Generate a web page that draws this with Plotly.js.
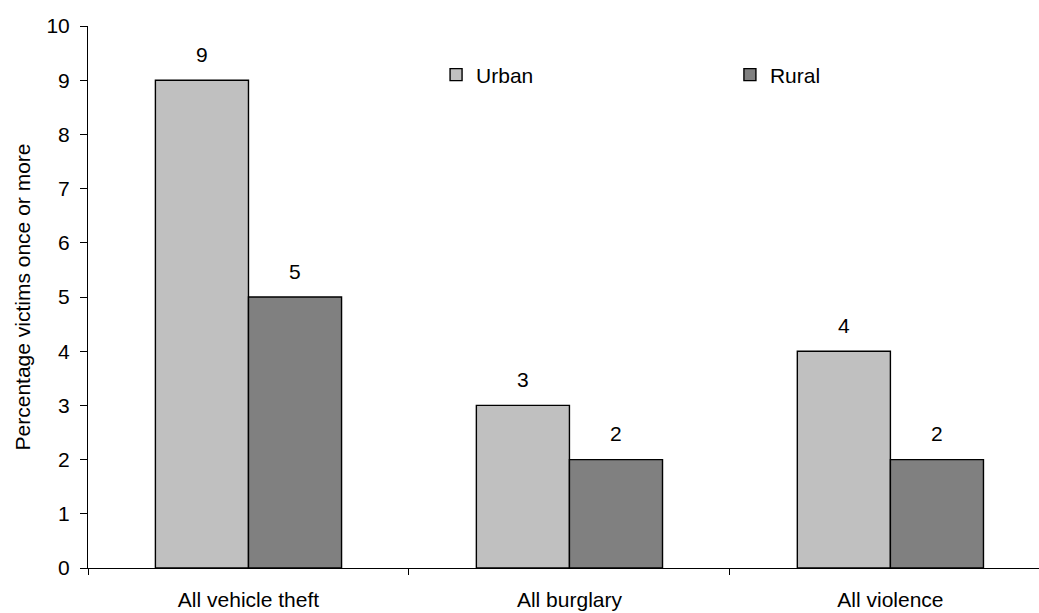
<!DOCTYPE html>
<html>
<head>
<meta charset="utf-8">
<script src="https://cdn.plot.ly/plotly-3.0.1.min.js"></script>
<style>
  html, body { margin: 0; padding: 0; background: #ffffff; }
  #chart { width: 1039px; height: 613px; }
</style>
</head>
<body>
<div id="chart"></div>
<script>
// Victimisation rates by area type
const categories = ["All vehicle theft", "All burglary", "All violence"];
const urbanValues = [9, 3, 4];
const ruralValues = [5, 2, 2];
const seriesNames = ["Urban", "Rural"];
const yTicks = [0, 1, 2, 3, 4, 5, 6, 7, 8, 9, 10];

const FONT = "Liberation Sans, Arial, sans-serif";
const FS = 21;

const urban = {
  type: "bar",
  name: seriesNames[0],
  x: categories,
  y: urbanValues,
  legend: "legend",
  marker: { color: "#c0c0c0", line: { color: "#000000", width: 1.4 } },
  hoverinfo: "x+y+name"
};
const rural = {
  type: "bar",
  name: seriesNames[1],
  x: categories,
  y: ruralValues,
  legend: "legend2",
  marker: { color: "#808080", line: { color: "#000000", width: 1.4 } },
  hoverinfo: "x+y+name"
};

// Value labels above each bar, centred over its half of the group
const annotations = [];
const groupOffset = 0.145;
categories.forEach((c, i) => {
  annotations.push({
    x: i - groupOffset, y: urbanValues[i], xref: "x", yref: "y",
    text: String(urbanValues[i]), showarrow: false,
    yanchor: "middle", yshift: 26,
    font: { family: FONT, size: FS, color: "#000000" }
  });
  annotations.push({
    x: i + groupOffset, y: ruralValues[i], xref: "x", yref: "y",
    text: String(ruralValues[i]), showarrow: false,
    yanchor: "middle", yshift: 26,
    font: { family: FONT, size: FS, color: "#000000" }
  });
});

const legendBase = {
  orientation: "v",
  yanchor: "middle",
  xanchor: "left",
  y: 0.9096,
  bgcolor: "rgba(0,0,0,0)",
  borderwidth: 0,
  font: { family: FONT, size: FS, color: "#000000" }
};

const layout = {
  width: 1039,
  height: 613,
  margin: { l: 88, r: 0, t: 26, b: 45, pad: 0 },
  paper_bgcolor: "#ffffff",
  plot_bgcolor: "#ffffff",
  barmode: "group",
  bargap: 0.42,
  bargroupgap: 0,
  font: { family: FONT, size: FS, color: "#000000" },
  showlegend: true,
  legend: Object.assign({}, legendBase, { x: 0.366 }),
  legend2: Object.assign({}, legendBase, { x: 0.675 }),
  xaxis: {
    type: "category",
    range: [-0.5, 2.463],
    showgrid: false,
    zeroline: false,
    showline: true,
    linecolor: "#000000",
    linewidth: 1,
    ticks: "outside",
    tickson: "boundaries",
    ticklen: 6,
    tickcolor: "#000000",
    ticklabelstandoff: 13,
    tickfont: { family: FONT, size: FS, color: "#000000" },
    fixedrange: true
  },
  yaxis: {
    range: [0, 10],
    tickvals: yTicks,
    ticktext: yTicks.map(String),
    showgrid: false,
    zeroline: false,
    showline: true,
    linecolor: "#000000",
    linewidth: 1,
    ticks: "outside",
    ticklen: 7,
    tickcolor: "#000000",
    ticklabelstandoff: 6,
    tickfont: { family: FONT, size: FS, color: "#000000" },
    title: {
      text: "Percentage victims once or more",
      font: { family: FONT, size: FS, color: "#000000" },
      standoff: 10
    },
    fixedrange: true
  },
  annotations: annotations
};

Plotly.newPlot("chart", [urban, rural], layout, { displayModeBar: false, staticPlot: true });
</script>
</body>
</html>
